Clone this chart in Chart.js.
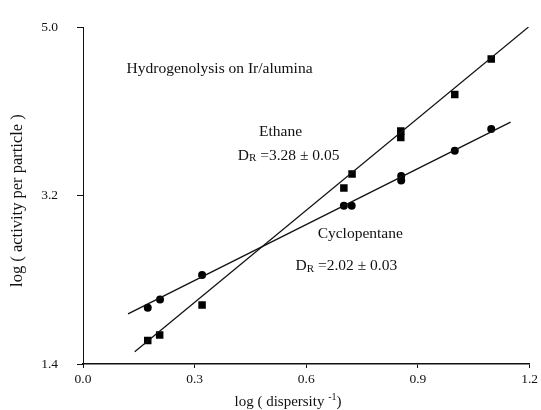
<!DOCTYPE html>
<html>
<head>
<meta charset="utf-8">
<script src="https://cdn.jsdelivr.net/npm/chart.js@4.4.1/dist/chart.umd.min.js"></script>
<style>
  html, body { margin: 0; padding: 0; background: #fff; }
  #wrap { width: 541px; height: 410px; }
</style>
</head>
<body>
<div id="wrap"><canvas id="grafico"></canvas></div>
<script>
// dados
var ethaneX = [0.174, 0.206, 0.320, 0.701, 0.723, 0.854, 0.854, 0.999, 1.097];
var ethaneY = [1.65, 1.71, 2.03, 3.28, 3.43, 3.82, 3.89, 4.28, 4.66];
var cycloX = [0.174, 0.207, 0.320, 0.701, 0.722, 0.855, 0.855, 0.999, 1.097];
var cycloY = [2.00, 2.09, 2.35, 3.09, 3.09, 3.36, 3.41, 3.68, 3.91];

// retas ajustadas (extremos)
var ethaneFitX = [0.139, 1.197];
var ethaneFitY = [1.53, 5.0];
var cycloFitX = [0.121, 1.149];
var cycloFitY = [1.935, 3.984];

var xTicks = [0.0, 0.3, 0.6, 0.9, 1.2];
var yTicks = [1.4, 3.2, 5.0];

function pts(xs, ys) {
  return xs.map(function (x, i) { return { x: x, y: ys[i] }; });
}

var serif = '"Liberation Serif", "Times New Roman", serif';

// textos dentro do grafico
var textos = {
  id: 'textos',
  afterDraw: function (chart) {
    var ctx = chart.ctx;
    var xs = chart.scales.x, ys = chart.scales.y;
    var area = chart.chartArea;
    ctx.save();
    ctx.fillStyle = '#111';
    ctx.textBaseline = 'middle';
    ctx.font = '15.5px ' + serif;

    ctx.textAlign = 'left';
    ctx.fillText('Hydrogenolysis on Ir/alumina', xs.getPixelForValue(0.117), ys.getPixelForValue(4.557));
    ctx.textAlign = 'center';
    ctx.fillText('Ethane', xs.getPixelForValue(0.531), ys.getPixelForValue(3.881));
    ctx.fillText('Cyclopentane', xs.getPixelForValue(0.745), ys.getPixelForValue(2.794));

    function dr(valor, x, y) {
      ctx.textAlign = 'left';
      ctx.font = '15.5px ' + serif;
      ctx.fillText('D', x, y);
      var w = ctx.measureText('D').width;
      ctx.font = '11px ' + serif;
      ctx.fillText('R', x + w, y + 3);
      var w2 = ctx.measureText('R').width;
      ctx.font = '15.5px ' + serif;
      ctx.fillText(' =' + valor, x + w + w2, y);
    }
    dr('3.28 \u00b1 0.05', xs.getPixelForValue(0.416), ys.getPixelForValue(3.628));
    dr('2.02 \u00b1 0.03', xs.getPixelForValue(0.571), ys.getPixelForValue(2.445));

    // titulo eixo x
    ctx.font = '15px ' + serif;
    var a = 'log ( dispersity ', b = '-1', c = ')';
    var wa = ctx.measureText(a).width, wc = ctx.measureText(c).width;
    ctx.font = '10px ' + serif;
    var wb = ctx.measureText(b).width;
    var total = wa + wb + wc;
    var x0 = 288 - total / 2, y0 = 402;
    ctx.textAlign = 'left';
    ctx.font = '15px ' + serif;
    ctx.fillText(a, x0, y0);
    ctx.font = '10px ' + serif;
    ctx.fillText(b, x0 + wa, y0 - 5);
    ctx.font = '15px ' + serif;
    ctx.fillText(c, x0 + wa + wb, y0);

    // titulo eixo y
    ctx.font = '16.5px ' + serif;
    ctx.translate(18, (area.top + area.bottom) / 2 + 5);
    ctx.rotate(-Math.PI / 2);
    ctx.textAlign = 'center';
    ctx.fillText('log ( activity per particle )', 0, 0);
    ctx.restore();
  }
};

var ctx = document.getElementById('grafico').getContext('2d');
var myChart = new Chart(ctx, {
  type: 'scatter',
  data: {
    datasets: [{
      label: 'Ethane fit',
      data: pts(ethaneFitX, ethaneFitY),
      showLine: true,
      borderColor: '#111',
      borderWidth: 1.3,
      pointRadius: 0
    },
    {
      label: 'Cyclopentane fit',
      data: pts(cycloFitX, cycloFitY),
      showLine: true,
      borderColor: '#111',
      borderWidth: 1.3,
      pointRadius: 0
    },
    {
      label: 'Ethane',
      data: pts(ethaneX, ethaneY),
      pointStyle: 'rect',
      pointRadius: 5.3,
      backgroundColor: '#000',
      borderColor: '#000',
      borderWidth: 0
    },
    {
      label: 'Cyclopentane',
      data: pts(cycloX, cycloY),
      pointStyle: 'circle',
      pointRadius: 4,
      backgroundColor: '#000',
      borderColor: '#000',
      borderWidth: 0
    }
    ]
  },
  options: {
    responsive: true,
    maintainAspectRatio: false,
    animation: false,
    layout: {
      padding: { top: 23, right: 9, left: 0, bottom: 0 }
    },
    plugins: {
      legend: { display: false },
      tooltip: { enabled: false }
    },
    scales: {
      x: {
        type: 'linear',
        min: 0,
        max: 1.2,
        afterBuildTicks: function (scale) {
          scale.ticks = xTicks.map(function (v) { return { value: v }; });
        },
        afterFit: function (scale) { scale.height = 46; },
        border: { display: true, color: '#111', width: 1.5 },
        grid: { drawOnChartArea: false, drawTicks: true, tickLength: 4, color: '#111' },
        ticks: {
          padding: 3,
          color: '#111',
          font: { family: serif, size: 13.5 },
          callback: function (v) { return Number(v).toFixed(1); }
        }
      },
      y: {
        type: 'linear',
        min: 1.4,
        max: 5.0,
        afterBuildTicks: function (scale) {
          scale.ticks = yTicks.map(function (v) { return { value: v }; });
        },
        afterFit: function (scale) { scale.width = 83; },
        border: { display: true, color: '#111', width: 1 },
        grid: { drawOnChartArea: false, drawTicks: true, tickLength: 6, color: '#111' },
        ticks: {
          padding: 19,
          color: '#111',
          font: { family: serif, size: 13.5 },
          callback: function (v) { return Number(v).toFixed(1); }
        }
      }
    }
  },
  plugins: [textos]
});
</script>
</body>
</html>
